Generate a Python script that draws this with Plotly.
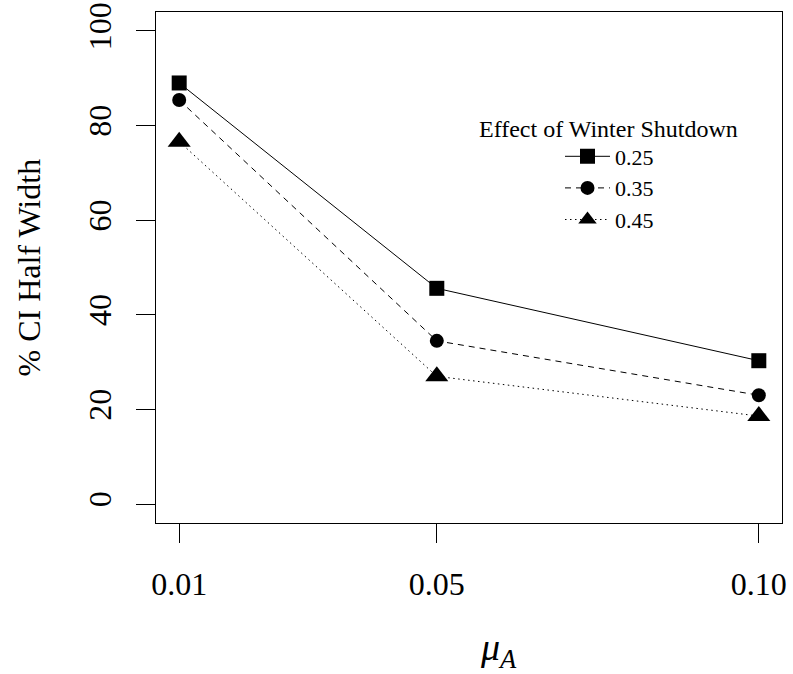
import plotly.graph_objects as go

mu_a = [0.01, 0.05, 0.10]
x_tick_labels = ["0.01", "0.05", "0.10"]
shutdown_025 = [89.0, 45.6, 30.3]
shutdown_035 = [85.4, 34.5, 23.0]
shutdown_045 = [76.6, 27.0, 18.6]
series_names = ["0.25", "0.35", "0.45"]
y_ticks = [0, 20, 40, 60, 80, 100]

FONT = "Liberation Serif"

fig = go.Figure()
styles = [
    ("solid", "square", 15),
    ("6px,5px", "circle", 14),
    ("1.5px,3.5px", "triangle-up", 20),
]
for name, vals, (dash, sym, size) in zip(series_names, [shutdown_025, shutdown_035, shutdown_045], styles):
    fig.add_trace(go.Scatter(
        x=mu_a, y=vals, name=name, mode="lines+markers",
        line=dict(color="black", width=1, dash=dash),
        marker=dict(symbol=sym, size=size, color="black"),
    ))

fig.update_layout(
    width=793, height=674,
    margin=dict(l=156, r=11, t=12, b=151),
    paper_bgcolor="white", plot_bgcolor="white",
    font=dict(family=FONT, color="black"),
    showlegend=True,
    legend=dict(
        x=(560 - 156) / 626, xanchor="left",
        y=(523 - 188) / 511, yanchor="middle",
        font=dict(family=FONT, size=22, color="black"),
        bgcolor="rgba(0,0,0,0)", borderwidth=0,
        itemwidth=45,
    ),
    xaxis=dict(
        range=[0.0064, 0.1036], tickvals=mu_a, ticktext=x_tick_labels,
        showgrid=False, zeroline=False, automargin=False,
        showline=True, mirror=True, linecolor="black", linewidth=1,
        ticks="outside", ticklen=19, tickcolor="black", tickwidth=1,
        tickfont=dict(family=FONT, size=32, color="black"),
        ticklabelstandoff=14,
    ),
    yaxis=dict(
        range=[-4, 104], tickvals=y_ticks,
        showgrid=False, zeroline=False, automargin=False,
        showline=True, mirror=True, linecolor="black", linewidth=1,
        ticks="outside", ticklen=19, tickcolor="black", tickwidth=1,
        tickfont=dict(family=FONT, size=32, color="black"),
        tickangle=-90, ticklabelstandoff=12,
    ),
    annotations=[
        dict(text="% CI Half Width", xref="paper", yref="paper",
             x=(28 - 156) / 626, y=0.5, xanchor="center", yanchor="middle",
             textangle=-90, showarrow=False,
             font=dict(family=FONT, size=32, color="black")),
        dict(text="<i>μ<sub>A</sub></i>", xref="paper", yref="paper",
             x=(498 - 156) / 626, y=(523 - 650) / 511, xanchor="center", yanchor="middle",
             showarrow=False,
             font=dict(family=FONT, size=38, color="black")),
        dict(text="Effect of Winter Shutdown", xref="paper", yref="paper",
             x=(608 - 156) / 626, y=(523 - 129) / 511, xanchor="center", yanchor="middle",
             showarrow=False,
             font=dict(family=FONT, size=24, color="black")),
    ],
)

fig.write_html("out.html", config={"displayModeBar": False},
               post_script="document.body.style.margin='0px';")
